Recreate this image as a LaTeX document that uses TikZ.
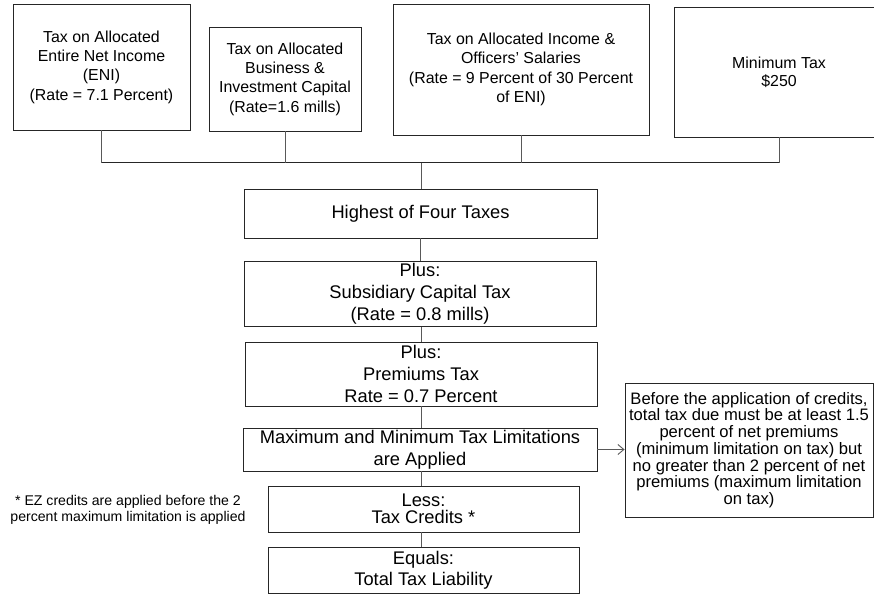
\documentclass[tikz,border=0pt]{standalone}
\usepackage{fontspec}
\setmainfont{Liberation Sans}
\usetikzlibrary{arrows.meta}
\begin{document}
\begin{tikzpicture}[x=1pt,y=-1pt,
  box/.style={draw=black!85,line width=0.9pt,rectangle,inner sep=2pt,align=center,text=black},
  topfont/.style={font=\fontsize{15.9}{19.4}\selectfont},
  midfont/.style={font=\fontsize{18.3}{22}\selectfont},
  link/.style={draw=black!65,line width=0.9pt}]
\useasboundingbox (0,0) rectangle (874,594);
% four alternative taxes
\node[box,topfont,minimum width=177pt,minimum height=126pt] (t1) at (101.5,67)
  {Tax on Allocated\\Entire Net Income\\(ENI)\\(Rate = 7.1 Percent)};
\node[box,topfont,minimum width=152pt,minimum height=104pt] (t2) at (285,79)
  {Tax on Allocated\\Business \&\\Investment Capital\\(Rate=1.6 mills)};
\node[box,topfont,minimum width=256pt,minimum height=131pt] (t3) at (521,69.5)
  {Tax on Allocated Income \&\\Officers' Salaries\\(Rate = 9 Percent of 30 Percent\\of ENI)};
\node[box,topfont,font=\fontsize{15.9}{18.3}\selectfont,minimum width=210pt,minimum height=130pt] (t4) at (779,72)
  {Minimum Tax\\\$250};
% main column
\node[box,midfont,minimum width=353pt,minimum height=49pt] (hi) at (420.5,213.5)
  {Highest of Four Taxes};
\node[box,midfont,minimum width=352pt,minimum height=64pt] (sub) at (420,294)
  {Plus:\\Subsidiary Capital Tax\\(Rate = 0.8 mills)};
\node[box,midfont,minimum width=352pt,minimum height=64pt] (prem) at (421,374)
  {Plus:\\Premiums Tax\\Rate = 0.7 Percent};
\node[box,midfont,minimum width=354pt,minimum height=43pt] (mm) at (420,449.5)
  {Maximum and Minimum Tax Limitations\\are Applied};
\node[box,font=\fontsize{18.3}{17.5}\selectfont,minimum width=311pt,minimum height=46pt] (less) at (423.5,509)
  {Less:\\Tax Credits *};
\node[box,font=\fontsize{18.3}{21}\selectfont,minimum width=311pt,minimum height=46pt] (eq) at (423.5,570)
  {Equals:\\Total Tax Liability};
% side notes
\node[box,font=\fontsize{16.6}{16.7}\selectfont,minimum width=248pt,minimum height=134pt] (note) at (749,450)
  {Before the application of credits,\\total tax due must be at least 1.5\\percent of net premiums\\(minimum limitation on tax) but\\no greater than 2 percent of net\\premiums (maximum limitation\\on tax)};
\node[align=center,inner sep=0pt,font=\fontsize{14.1}{15.7}\selectfont] (fn) at (128,509.5)
  {* EZ credits are applied before the 2\\percent maximum limitation is applied};
% collecting bus
\coordinate (b1) at (101,162.5);
\coordinate (b4) at (779,162.5);
\coordinate (bm) at (421,162.5);
\draw[draw=black!85,line width=0.9pt] (b1) -- (b4);
\draw[link] (t1.south -| b1) -- (b1);
\draw[link] (t2.south) -- (t2.south |- b1);
\draw[link] (t3.south) -- (t3.south |- b1);
\draw[link] (t4.south) -- (b4);
\draw[link] (bm) -- (hi.north -| bm);
% chain
\draw[link] (hi.south) -- (sub.north -| hi.south);
\draw[link] (sub.south -| prem.north) -- (prem.north);
\draw[link] (prem.south) -- (mm.north -| prem.south);
\draw[link] (less.north -| prem.south) -- (mm.south -| prem.south);
\draw[link] (less.south -| prem.south) -- (eq.north -| prem.south);
\draw[link,-{Straight Barb[length=6pt,width=10pt]}] (mm.east) -- (note.west |- mm.east);
\end{tikzpicture}
\end{document}
